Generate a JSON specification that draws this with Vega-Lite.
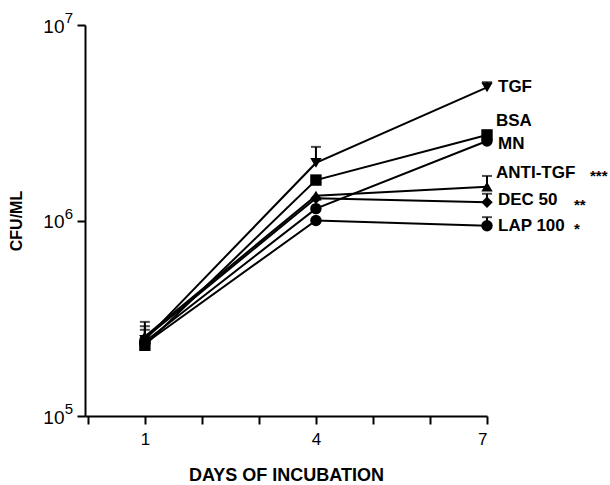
{
  "$schema": "https://vega.github.io/schema/vega-lite/v6.json",
  "autosize": "none",
  "width": 402,
  "height": 391,
  "padding": {"left": 85, "top": 25, "right": 123, "bottom": 69},
  "background": "white",
  "config": {
    "view": {"stroke": null},
    "font": "Liberation Sans",
    "axis": {
      "domainColor": "black", "domainWidth": 2, "tickColor": "black", "tickWidth": 2,
      "labelColor": "black", "titleColor": "black", "grid": false,
      "labelFont": "Liberation Sans", "titleFont": "Liberation Sans"
    }
  },
  "datasets": {
    "pts": [
      {"series": "TGF", "day": 1, "cfu": 245000},
      {"series": "TGF", "day": 4, "cfu": 1970000},
      {"series": "TGF", "day": 7, "cfu": 4800000},
      {"series": "BSA", "day": 1, "cfu": 230000},
      {"series": "BSA", "day": 4, "cfu": 1610000},
      {"series": "BSA", "day": 7, "cfu": 2740000},
      {"series": "MN", "day": 1, "cfu": 240000},
      {"series": "MN", "day": 4, "cfu": 1150000},
      {"series": "MN", "day": 7, "cfu": 2550000},
      {"series": "ANTI-TGF", "day": 1, "cfu": 255000},
      {"series": "ANTI-TGF", "day": 4, "cfu": 1340000},
      {"series": "ANTI-TGF", "day": 7, "cfu": 1490000},
      {"series": "DEC 50", "day": 1, "cfu": 250000},
      {"series": "DEC 50", "day": 4, "cfu": 1300000},
      {"series": "DEC 50", "day": 7, "cfu": 1240000},
      {"series": "LAP 100", "day": 1, "cfu": 235000},
      {"series": "LAP 100", "day": 4, "cfu": 1000000},
      {"series": "LAP 100", "day": 7, "cfu": 940000}
    ],
    "err": [
      {"series": "TGF", "day": 1, "cfu": 245000, "upper": 303000},
      {"series": "ANTI-TGF", "day": 1, "cfu": 255000, "upper": 288000},
      {"series": "DEC 50", "day": 1, "cfu": 250000, "upper": 276000},
      {"series": "TGF", "day": 4, "cfu": 1970000, "upper": 2380000},
      {"series": "TGF", "day": 7, "cfu": 4800000, "upper": 5100000},
      {"series": "ANTI-TGF", "day": 7, "cfu": 1490000, "upper": 1690000},
      {"series": "DEC 50", "day": 7, "cfu": 1240000, "upper": 1370000},
      {"series": "LAP 100", "day": 7, "cfu": 940000, "upper": 1040000}
    ],
    "labels": [
      {"series": "TGF", "day": 7, "cfu": 4800000, "label": "TGF", "stars": ""},
      {"series": "BSA", "day": 7, "cfu": 2740000, "label": "BSA", "stars": ""},
      {"series": "MN", "day": 7, "cfu": 2550000, "label": "MN", "stars": ""},
      {"series": "ANTI-TGF", "day": 7, "cfu": 1490000, "label": "ANTI-TGF", "stars": "***"},
      {"series": "DEC 50", "day": 7, "cfu": 1240000, "label": "DEC 50", "stars": "**"},
      {"series": "LAP 100", "day": 7, "cfu": 940000, "label": "LAP 100", "stars": "*"}
    ],
    "exps": [
      {"day": 0, "cfu": 100000, "sup": "5"},
      {"day": 0, "cfu": 1000000, "sup": "6"},
      {"day": 0, "cfu": 10000000, "sup": "7"}
    ]
  },
  "encoding": {
    "x": {
      "field": "day", "type": "quantitative",
      "scale": {"domain": [-0.05, 7], "nice": false, "zero": false},
      "axis": {
        "title": "DAYS OF INCUBATION", "titleFontSize": 18, "titleFontWeight": "bold", "titlePadding": 19,
        "values": [0, 1, 2, 3, 4, 5, 6, 7],
        "labelExpr": "datum.value == 1 || datum.value == 4 || datum.value == 7 ? datum.label : ''",
        "labelFontSize": 17, "labelPadding": 7, "tickSize": 8
      }
    },
    "y": {
      "field": "cfu", "type": "quantitative",
      "scale": {"type": "log", "domain": [100000, 10000000], "nice": false},
      "axis": {
        "title": "CFU/ML", "titleFontSize": 16, "titleFontWeight": "bold", "titlePadding": 18,
        "values": [100000, 1000000, 10000000],
        "labelExpr": "'10'",
        "labelFontSize": 19, "tickSize": 8, "labelPadding": 13, "labelBaseline": "middle", "labelOffset": 1
      }
    }
  },
  "layer": [
    {
      "data": {"name": "err"},
      "mark": {"type": "rule", "color": "black", "strokeWidth": 2},
      "encoding": {"y2": {"field": "upper"}}
    },
    {
      "data": {"name": "err"},
      "mark": {"type": "tick", "orient": "horizontal", "color": "black", "size": 10, "thickness": 2},
      "encoding": {"y": {"field": "upper", "type": "quantitative"}}
    },
    {
      "data": {"name": "pts"},
      "mark": {"type": "line", "color": "black", "strokeWidth": 2},
      "encoding": {"detail": {"field": "series"}}
    },
    {
      "data": {"name": "pts"},
      "mark": {"type": "point", "filled": true, "color": "black", "opacity": 1, "size": 130},
      "encoding": {
        "shape": {
          "field": "series", "type": "nominal", "legend": null,
          "scale": {
            "domain": ["TGF", "BSA", "MN", "ANTI-TGF", "DEC 50", "LAP 100"],
            "range": ["triangle-down", "square", "circle", "triangle-up", "diamond", "circle"]
          }
        }
      }
    },
    {
      "data": {"name": "exps"},
      "mark": {"type": "text", "align": "left", "baseline": "middle", "dx": -23, "dy": -7, "fontSize": 15, "color": "black", "clip": false},
      "encoding": {"text": {"field": "sup", "type": "nominal"}}
    },
    {
      "data": {"name": "labels"},
      "transform": [{"filter": "datum.series == 'TGF' || datum.series == 'LAP 100'"}],
      "mark": {"type": "text", "align": "left", "baseline": "middle", "dx": 11, "fontSize": 17, "fontWeight": "bold", "color": "black"},
      "encoding": {"text": {"field": "label"}}
    },
    {
      "data": {"name": "labels"},
      "transform": [{"filter": "datum.series == 'MN'"}],
      "mark": {"type": "text", "align": "left", "baseline": "middle", "dx": 11, "dy": 3, "fontSize": 17, "fontWeight": "bold", "color": "black"},
      "encoding": {"text": {"field": "label"}}
    },
    {
      "data": {"name": "labels"},
      "transform": [{"filter": "datum.series == 'DEC 50'"}],
      "mark": {"type": "text", "align": "left", "baseline": "middle", "dx": 11, "dy": -2, "fontSize": 17, "fontWeight": "bold", "color": "black"},
      "encoding": {"text": {"field": "label"}}
    },
    {
      "data": {"name": "labels"},
      "transform": [{"filter": "datum.series == 'BSA' || datum.series == 'ANTI-TGF'"}],
      "mark": {"type": "text", "align": "left", "baseline": "middle", "dx": 9, "dy": -14, "fontSize": 17, "fontWeight": "bold", "color": "black"},
      "encoding": {"text": {"field": "label"}}
    },
    {
      "data": {"name": "labels"},
      "transform": [{"filter": "datum.series == 'ANTI-TGF'"}],
      "mark": {"type": "text", "align": "left", "baseline": "middle", "dx": 103, "dy": -11, "fontSize": 15, "fontWeight": "bold", "color": "black"},
      "encoding": {"text": {"field": "stars"}}
    },
    {
      "data": {"name": "labels"},
      "transform": [{"filter": "datum.series == 'DEC 50' || datum.series == 'LAP 100'"}],
      "mark": {"type": "text", "align": "left", "baseline": "middle", "dx": 87, "dy": 3, "fontSize": 15, "fontWeight": "bold", "color": "black"},
      "encoding": {"text": {"field": "stars"}}
    }
  ]
}
